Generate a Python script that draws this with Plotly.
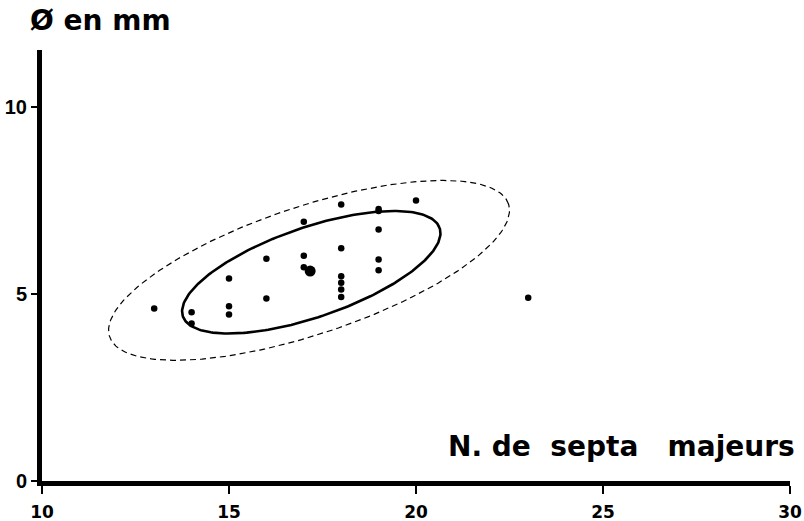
import numpy as np
import plotly.graph_objects as go

# Data
x_septa = [13, 14, 14, 15, 15, 15, 16, 16, 17, 17, 17, 18, 18, 18, 18, 18, 18,
           19, 19, 19, 19, 19, 20, 23]
y_diam = [4.61, 4.51, 4.21, 5.41, 4.67, 4.45, 4.88, 5.94, 6.93, 6.02, 5.71,
          7.39, 6.22, 5.47, 5.30, 5.12, 4.92, 7.27, 7.22, 6.72, 5.92, 5.63,
          7.50, 4.90]
mean_x = [17.17]
mean_y = [5.61]

# Ellipse parameters (centre x, centre y, semi-major, semi-minor, angle deg)
inner_ellipse = (17.2, 5.58, 3.63, 1.2, 19.0)
outer_ellipse = (17.14, 5.63, 5.62, 1.71, 18.4)

x_ticks = [10, 15, 20, 25, 30]
y_ticks = [0, 5, 10]
x_title = "N. de  septa   majeurs"
y_title = "Ø en mm"


def ellipse(params, n=240):
    cx, cy, a, b, ang = params
    th = np.radians(ang)
    t = np.linspace(0, 2 * np.pi, n)
    ex = cx + a * np.cos(t) * np.cos(th) - b * np.sin(t) * np.sin(th)
    ey = cy + a * np.cos(t) * np.sin(th) + b * np.sin(t) * np.cos(th)
    return ex, ey


fig = go.Figure()
ox, oy = ellipse(outer_ellipse)
fig.add_trace(go.Scatter(x=ox, y=oy, mode="lines",
                         line=dict(color="black", width=1.2, dash="6px,4px"),
                         hoverinfo="skip"))
ix, iy = ellipse(inner_ellipse)
fig.add_trace(go.Scatter(x=ix, y=iy, mode="lines",
                         line=dict(color="black", width=2.6),
                         hoverinfo="skip"))
fig.add_trace(go.Scatter(x=x_septa, y=y_diam, mode="markers",
                         marker=dict(color="black", size=6.5)))
fig.add_trace(go.Scatter(x=mean_x, y=mean_y, mode="markers",
                         marker=dict(color="black", size=11)))

arial = "Liberation Sans, Arial, sans-serif"
dejavu = "DejaVu Sans, sans-serif"

fig.update_layout(
    width=804, height=521,
    margin=dict(l=42, r=14, t=50, b=40, autoexpand=False),
    paper_bgcolor="white", plot_bgcolor="white",
    showlegend=False,
    font=dict(family=arial, color="black"),
    xaxis=dict(range=[10, 30], tickvals=x_ticks, ticktext=[str(v) for v in x_ticks],
               showgrid=False, zeroline=False, showline=True, linewidth=5,
               linecolor="black", ticks="outside", ticklen=8, tickwidth=2,
               tickcolor="black", automargin=False, ticklabelstandoff=4,
               tickfont=dict(size=17, family=dejavu, weight="bold")),
    yaxis=dict(range=[0, 11.52], tickvals=y_ticks, ticktext=[str(v) for v in y_ticks],
               showgrid=False, zeroline=False, showline=True, linewidth=5,
               linecolor="black", ticks="outside", ticklen=6, tickwidth=2,
               tickcolor="black", automargin=False,
               tickfont=dict(size=20, family=arial, weight="bold")),
    annotations=[
        dict(text=y_title, xref="paper", yref="paper", x=-0.0187, y=1.0696,
             xanchor="left", yanchor="middle", showarrow=False,
             font=dict(size=28, family=dejavu, weight="bold")),
        dict(text=x_title, xref="paper", yref="paper", x=1.0094, y=0.079,
             xanchor="right", yanchor="middle", showarrow=False,
             font=dict(size=28, family=dejavu, weight="bold")),
    ],
)

fig.write_html(
    "out.html",
    config={"displayModeBar": False},
    post_script="document.body.style.margin='0';document.body.style.overflow='hidden';",
)
